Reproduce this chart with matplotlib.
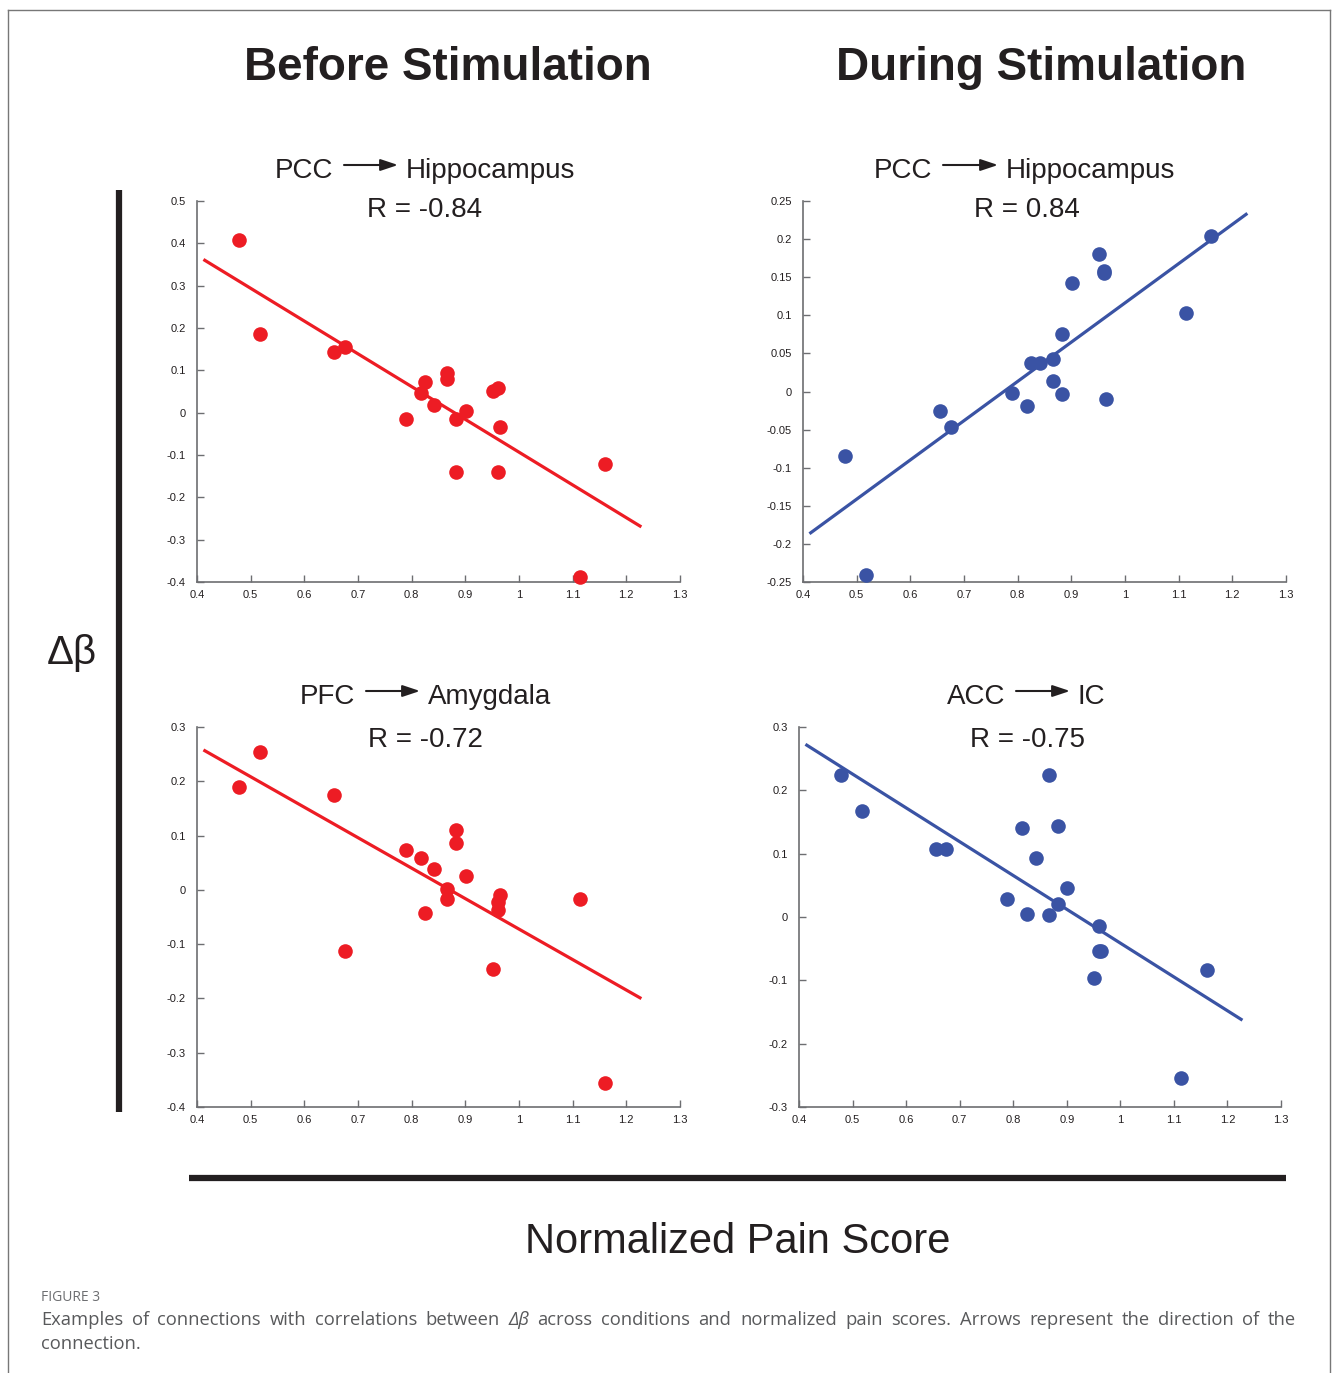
import numpy as np
import matplotlib
matplotlib.use("Agg")
import matplotlib.pyplot as plt
from matplotlib.lines import Line2D
from matplotlib.patches import FancyArrowPatch
from matplotlib.ticker import FuncFormatter, MultipleLocator

plt.rcParams['font.family'] = ['Liberation Sans', 'DejaVu Sans']
plt.rcParams['axes.unicode_minus'] = False

# normalized pain score per subject (same for all four panels)
pain = [0.478, 0.518, 0.655, 0.675, 0.789, 0.817, 0.825, 0.842, 0.866, 0.866,
        0.883, 0.883, 0.901, 0.951, 0.961, 0.961, 0.964, 1.113, 1.161]

# delta beta values, one list per panel
before_pcc_hipp = [0.407, 0.186, 0.143, 0.155, -0.014, 0.046, 0.072, 0.018, 0.093, 0.080,
                   -0.014, -0.139, 0.005, 0.052, 0.058, -0.139, -0.034, -0.389, -0.121]
during_pcc_hipp = [-0.085, -0.241, -0.026, -0.047, -0.002, -0.019, 0.038, 0.038, 0.043, 0.014,
                   0.076, -0.003, 0.142, 0.181, 0.158, 0.156, -0.010, 0.103, 0.204]
before_pfc_amyg = [0.189, 0.254, 0.174, -0.113, 0.073, 0.059, -0.043, 0.038, 0.001, -0.017,
                   0.111, 0.087, 0.025, -0.146, -0.023, -0.037, -0.010, -0.017, -0.356]
during_acc_ic = [0.225, 0.167, 0.108, 0.108, 0.029, 0.141, 0.004, 0.093, 0.225, 0.003,
                 0.144, 0.021, 0.046, -0.097, -0.053, -0.014, -0.053, -0.254, -0.083]

col_titles = ["Before Stimulation", "During Stimulation"]
r_labels = ["R = -0.84", "R = 0.84", "R = -0.72", "R = -0.75"]
sources = ["PCC", "PCC", "PFC", "ACC"]
targets = ["Hippocampus", "Hippocampus", "Amygdala", "IC"]

RED = '#ED1C24'
BLUE = '#3A53A4'
DARK = '#231F20'
GRAY = '#6D6E71'

W, H = 1336, 1373
fig = plt.figure(figsize=(W / 100, H / 100), dpi=100)


def fx(x):
    return x / W


def fy(y):
    return 1 - y / H


def fmt(v, _):
    if abs(v) < 1e-9:
        return "0"
    return f"{round(v, 3):g}"


# panel boxes in pixels: left, right, top, bottom
boxes = [(197, 680, 201, 582), (803, 1286, 201, 582),
         (197, 680, 727, 1107), (799, 1281, 727, 1107)]
ylims = [(-0.4, 0.5, 0.1), (-0.25, 0.25, 0.05), (-0.4, 0.3, 0.1), (-0.3, 0.3, 0.1)]
series = [before_pcc_hipp, during_pcc_hipp, before_pfc_amyg, during_acc_ic]
colors = [RED, BLUE, RED, BLUE]

for i in range(4):
    l, r, t, b = boxes[i]
    ax = fig.add_axes([fx(l), fy(b), (r - l) / W, (b - t) / H])
    x = np.array(pain)
    y = np.array(series[i])
    k, c = np.polyfit(x, y, 1)
    xs = np.array([0.412, 1.228])
    ax.plot(xs, k * xs + c, color=colors[i], lw=2.3, zorder=2, solid_capstyle='butt')
    ax.plot(x, y, 'o', ms=10.5, color=colors[i], mec='none', clip_on=False, zorder=3)
    ax.set_xlim(0.4, 1.3)
    lo, hi, step = ylims[i]
    ax.set_ylim(lo, hi)
    ax.xaxis.set_major_locator(MultipleLocator(0.1))
    ax.yaxis.set_major_locator(MultipleLocator(step))
    ax.xaxis.set_major_formatter(FuncFormatter(fmt))
    ax.yaxis.set_major_formatter(FuncFormatter(fmt))
    for s in ['top', 'right']:
        ax.spines[s].set_visible(False)
    for s in ['left', 'bottom']:
        ax.spines[s].set_color(GRAY)
        ax.spines[s].set_linewidth(1.2)
    ax.tick_params(direction='in', length=5, width=1, color=GRAY, labelsize=8,
                   labelcolor=DARK)
    ax.tick_params(axis='y', pad=8)
    ax.tick_params(axis='x', pad=6)
    ax.patch.set_alpha(0)

# column titles
fig.text(fx(448), fy(80), col_titles[0], ha='center', va='baseline',
         fontsize=33, fontweight='bold', color=DARK)
fig.text(fx(1041), fy(80), col_titles[1], ha='center', va='baseline',
         fontsize=33, fontweight='bold', color=DARK)

# connection labels with arrows; arrow start/end x and baseline y for each panel
arrows = [(344, 398, 178), (943, 998, 178), (366, 420, 704), (1016, 1070, 704)]
r_pos = [(425, 217), (1027, 217), (425, 747), (1027, 747)]
for i in range(4):
    a0, a1, base = arrows[i]
    fig.text(fx(a0 - 11), fy(base), sources[i], ha='right', va='baseline',
             fontsize=20, color=DARK)
    fig.text(fx(a1 + 8), fy(base), targets[i], ha='left', va='baseline',
             fontsize=20, color=DARK)
    ay = base - 13
    fig.add_artist(FancyArrowPatch((fx(a0), fy(ay)), (fx(a1), fy(ay)),
                                   transform=fig.transFigure,
                                   arrowstyle='-|>,head_length=0.75,head_width=0.25',
                                   mutation_scale=14, lw=1.5, color=DARK,
                                   shrinkA=0, shrinkB=0))
    fig.text(fx(r_pos[i][0]), fy(r_pos[i][1]), r_labels[i], ha='center', va='baseline',
             fontsize=20, color=DARK)

# big axis bars and labels
fig.add_artist(Line2D([fx(119), fx(119)], [fy(190), fy(1112)], color=DARK, lw=4.5,
                      solid_capstyle='butt', transform=fig.transFigure))
fig.add_artist(Line2D([fx(189), fx(1286)], [fy(1178), fy(1178)], color=DARK, lw=4.5,
                      solid_capstyle='butt', transform=fig.transFigure))
fig.text(fx(72), fy(664), "Δβ", ha='center', va='baseline', fontsize=29, color=DARK)
fig.text(fx(738), fy(1253), "Normalized Pain Score", ha='center', va='baseline',
         fontsize=30, color=DARK)

# outer frame (open at bottom)
for xs_, ys_ in [([8, 1330], [10, 10]), ([8, 8], [10, 1373]), ([1330, 1330], [10, 1373])]:
    fig.add_artist(Line2D([fx(v) for v in xs_], [fy(v) for v in ys_], color='#777777',
                          lw=1, transform=fig.transFigure))

# caption
cap_font = ['Open Sans', 'DejaVu Sans']
fig.text(fx(41), fy(1301), "FIGURE 3", ha='left', va='baseline', fontsize=10,
         color=GRAY, family=cap_font)

line1 = ("Examples of connections with correlations between Δβ across conditions and "
         "normalized pain scores. Arrows represent the direction of the").split()
renderer = fig.canvas.get_renderer()
texts = []
for w in line1:
    texts.append(fig.text(0, fy(1325), w, ha='left', va='baseline', fontsize=13.2,
                          color='#58595B', family=cap_font,
                          style='italic' if w == 'Δβ' else 'normal'))
widths = [tx.get_window_extent(renderer).width for tx in texts]
gap = ((1296 - 41) - sum(widths)) / (len(texts) - 1)
xpos = 41
for tx, wd in zip(texts, widths):
    tx.set_x(fx(xpos))
    xpos += wd + gap
fig.text(fx(41), fy(1349), "connection.", ha='left', va='baseline', fontsize=13.2,
         color='#58595B', family=cap_font)

fig.savefig("out.png", dpi=100)
